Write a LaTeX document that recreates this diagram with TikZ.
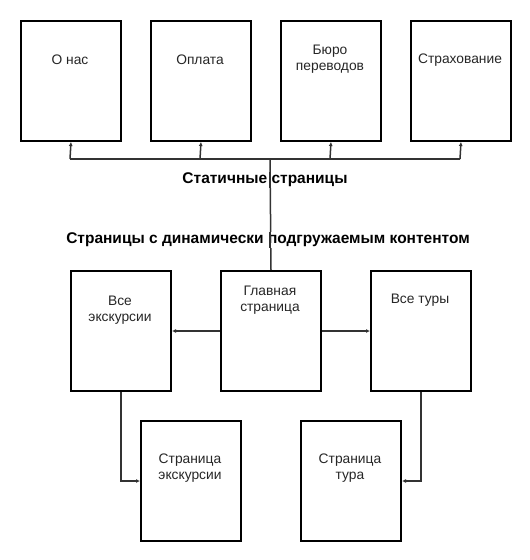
\documentclass[tikz,border=0pt]{standalone}
\usepackage{fontspec}
\setmainfont{Liberation Sans}
\usetikzlibrary{arrows.meta,positioning}
\begin{document}
\begin{tikzpicture}[x=1pt,y=-1pt,
  page/.style={draw=black,line width=2pt,minimum width=100pt,minimum height=120pt,inner sep=0pt,anchor=north west},
  lbl/.style={font=\fontsize{13.8}{15.5}\selectfont,align=center,text=black!85},
  conn/.style={draw=black!80,line width=1.5pt,-{Latex[length=4pt,width=4pt]}},
  plain/.style={draw=black!80,line width=1.5pt},
  head/.style={font=\bfseries\fontsize{15.5}{17}\selectfont}]
\useasboundingbox[fill=white] (0,0) rectangle (530,560);
% top row
\node[page] (onas) at (20,20) {};
\node[page] (opl) at (150,20) {};
\node[page] (buro) at (280,20) {};
\node[page] (strah) at (410,20) {};
\node[lbl] at (70,60) {О нас};
\node[lbl] at (200,60) {Оплата};
\node[lbl] at (330,59) {Бюро\\переводов};
\node[lbl] at (460,60) {Страхование};
% middle row
\node[page] (vse) at (70,270) {};
\node[page] (main) at (220,270) {};
\node[page] (tury) at (370,270) {};
\node[lbl] at (120,310) {Все\\экскурсии};
\node[lbl] at (270,300) {Главная\\страница};
\node[lbl] at (420,300) {Все туры};
% bottom row
\node[page] (pexc) at (140,420) {};
\node[page] (ptur) at (300,420) {};
\node[lbl] at (190,468) {Страница\\экскурсии};
\node[lbl] at (350,468) {Страница\\тура};
% connectors
\coordinate (hub) at (270,159);
\draw[plain] (main.north) -- (hub);
\draw[plain] (70,159) -- (460,159);
\draw[conn] (70,159) -- (onas.south);
\draw[conn] (200,159) -- (opl.south);
\draw[conn] (330,159) -- (buro.south);
\draw[conn] (460,159) -- (strah.south);
\draw[conn] (main.west) -- (vse.east);
\draw[conn] (main.east) -- (tury.east -| tury.west);
\draw[conn] (vse.south) |- (pexc.west);
\draw[conn] (tury.south) |- (ptur.east);
% headings
\node[head,fill=white,inner sep=1pt] (h1) at (265,180) {Статичные страницы};
\node[head,fill=white,inner sep=1pt] (h2) at (268,240) {Страницы с динамически подгружаемым контентом};
\draw[plain] (h1.north -| hub) -- (h1.south -| hub);
\draw[plain] (h2.north -| hub) -- (h2.south -| hub);
\end{tikzpicture}
\end{document}
